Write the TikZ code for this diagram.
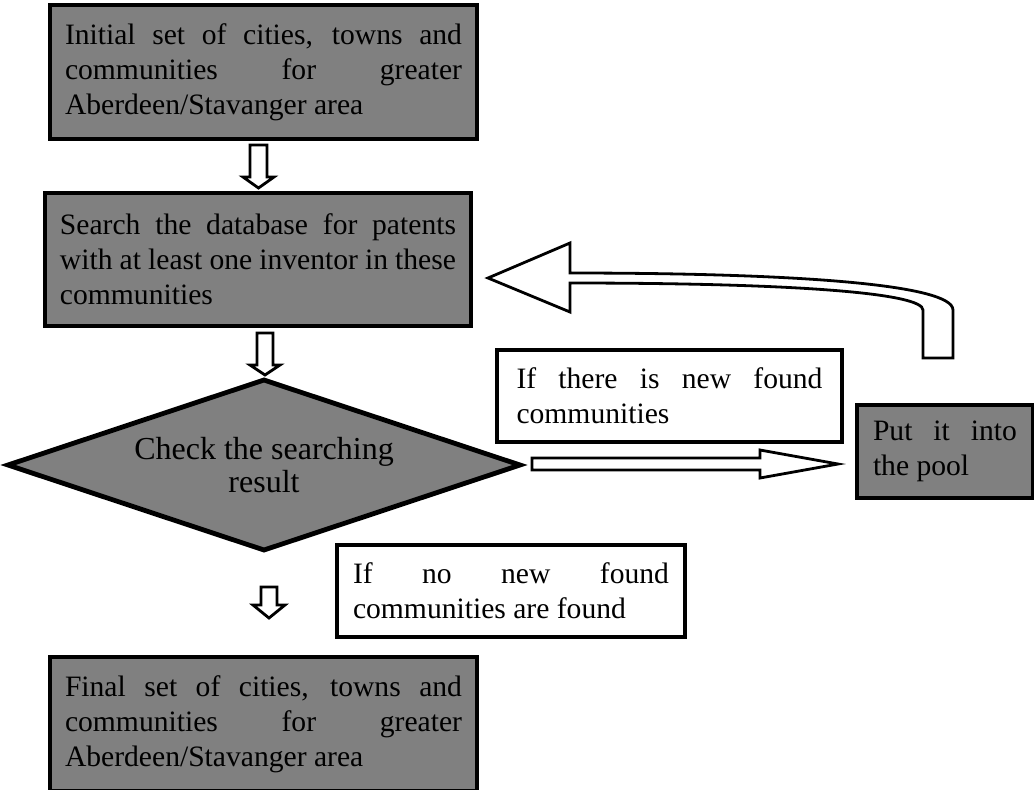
\documentclass[tikz,border=0pt]{standalone}
\usepackage{fontspec}
\setmainfont{Liberation Serif}
\usetikzlibrary{shapes.geometric}
\hyphenpenalty=10000
\tolerance=10000

\begin{document}
\begin{tikzpicture}[
		x=0.5pt, y=-0.5pt,
		every node/.style={outer sep=0pt, font=\fontsize{14.8}{17.5}\selectfont},
		procbox/.style={rectangle, draw, line width=2.2pt, fill=black!50, align=justify, inner xsep=7.5pt, inner ysep=0pt},
		notebox/.style={rectangle, draw, line width=1.8pt, fill=white, align=justify, inner ysep=0pt},
		decision/.style={diamond, draw, line width=2.4pt, fill=black!50, shape aspect=3, inner sep=0pt, align=center, font=\fontsize{16}{16.5}\selectfont},
		blockarrow/.style={draw, line width=1.4pt, fill=white, line join=miter}
	]
  \useasboundingbox (0,0) rectangle (1034,789);

  \node (init) [procbox, text width=198.5pt, minimum height=67pt] at (263.5,72) {Initial set of cities, towns and\linebreak communities for greater Aberdeen/Stavanger area};
  \node (search) [procbox, text width=198pt, minimum height=66.5pt] at (258,259.5) {Search the database for patents with at least one inventor in these communities};
  \node (check) [decision, minimum width=256pt, minimum height=85pt] at (264,465) {Check the searching\\result};
  \node (yesnote) [notebox, text width=153pt, inner xsep=9.75pt, minimum height=46pt] at (669.5,396) {If there is new found communities};
  \node (pool) [procbox, text width=72pt, inner xsep=8pt, minimum height=46.5pt] at (945,451.5) {Put it into the pool};
  \node (nonote) [notebox, text width=158pt, inner xsep=8pt, minimum height=46pt] at (511,591) {If no new found communities are found};
  \node (final) [procbox, text width=198.5pt, minimum height=67pt] at (263.5,724) {Final set of cities, towns and\linebreak communities for greater Aberdeen/Stavanger area};

  % hollow arrows between the steps
  \draw[blockarrow] ([xshift=-2.5pt,yshift=-3pt]init.south) ++(-8.5,0) -- ++(0,32) -- ++(-7,0) -- ++(15.5,11) -- ++(15.5,-11) -- ++(-7,0) -- ++(0,-32) -- cycle;
  \draw[blockarrow] ([xshift=3.5pt,yshift=-3.5pt]search.south) ++(-8,0) -- ++(0,32) -- ++(-7,0) -- ++(15,10) -- ++(15,-10) -- ++(-7,0) -- ++(0,-32) -- cycle;
  \draw[blockarrow] ([xshift=2.5pt,yshift=-18.5pt]check.south) ++(-8,0) -- ++(0,18) -- ++(-8,0) -- ++(16,13) -- ++(16,-13) -- ++(-8,0) -- ++(0,-18) -- cycle;
  \draw[blockarrow] ([xshift=6pt,yshift=3.5pt]check.east) -- ++(228,0) -- ++(0,-8) -- ++(78,14) -- ++(-78,14) -- ++(0,-8) -- ++(-228,0) -- cycle;
  % back to the search
  \draw[blockarrow] ([xshift=-3.5pt,yshift=23.5pt]pool.north) ++(15,0) -- ++(0,-48)
    to[out=90, in=0, out looseness=0.17, in looseness=1.5] ++(-383,-37)
    -- ++(0,-30) -- ++(-82,35) -- ++(82,34) -- ++(0,-29)
    to[out=0, in=90, out looseness=1.66, in looseness=0.12] ++(353,27)
    -- ++(0,48) -- cycle;
\end{tikzpicture}
\end{document}
